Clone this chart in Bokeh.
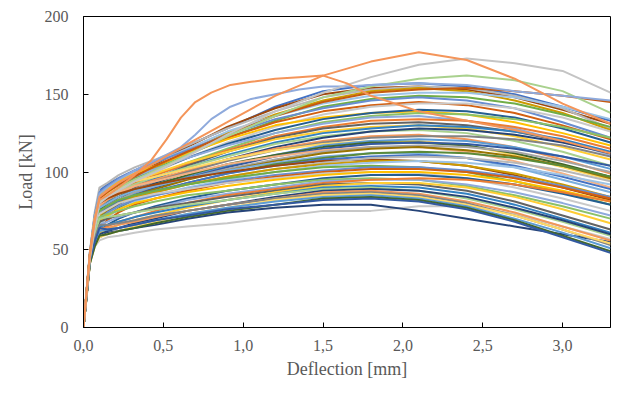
from bokeh.plotting import figure
from bokeh.models import Range1d, FixedTicker, CustomJSTickFormatter
from bokeh.embed import file_html
from bokeh.resources import INLINE

# ---------------- data ----------------
deflection = [0, 0.02, 0.04, 0.07, 0.1, 0.15, 0.22, 0.32, 0.45, 0.65, 0.9, 1.2, 1.5, 1.8, 2.1, 2.4, 2.7, 3.0, 3.3]
deflection_fine = [0, 0.02, 0.04, 0.07, 0.1, 0.15, 0.22, 0.32, 0.42, 0.52, 0.61, 0.7, 0.8, 0.92, 1.05, 1.2, 1.35, 1.5, 1.65, 1.8, 2.1, 2.4, 2.7, 3.0, 3.3]

x_ticks = [0, 0.5, 1.0, 1.5, 2.0, 2.5, 3.0]
y_ticks = [0, 50, 100, 150, 200]

m01 = [0, 25, 48, 72, 88, 92, 96, 101, 107, 117, 128, 142, 152, 156, 157, 155, 150, 142, 133]
m02 = [0, 24, 47, 70, 84, 89, 93, 99, 105, 116, 129, 141, 150, 154, 155, 153, 148, 140, 131]
m03 = [0, 25, 49, 74, 90, 93, 98, 103, 108, 117, 128, 139, 148, 153, 155, 154, 149, 141, 128]
m04 = [0, 23, 46, 68, 82, 86, 91, 97, 103, 113, 125, 137, 146, 152, 154, 152, 146, 138, 127]
m05 = [0, 24, 48, 71, 86, 90, 95, 100, 106, 115, 126, 136, 144, 149, 151, 151, 148, 142, 134]
m06 = [0, 23, 46, 67, 80, 85, 90, 96, 102, 111, 122, 133, 142, 147, 149, 148, 144, 137, 129]
m07 = [0, 24, 48, 72, 87, 91, 96, 101, 106, 114, 124, 134, 141, 146, 148, 146, 141, 132, 122]
m08 = [0, 24, 47, 69, 83, 88, 92, 98, 104, 112, 122, 132, 139, 143, 145, 143, 138, 130, 121]
m09 = [0, 23, 45, 65, 78, 83, 88, 94, 100, 109, 119, 129, 137, 142, 144, 144, 141, 135, 126]
m10 = [0, 24, 47, 70, 85, 89, 94, 99, 104, 112, 121, 130, 135, 138, 139, 137, 132, 125, 117]
m11 = [0, 23, 46, 68, 81, 85, 90, 95, 101, 109, 118, 127, 134, 138, 140, 139, 135, 128, 119]
m12 = [0, 22, 45, 63, 76, 81, 86, 92, 98, 106, 115, 125, 132, 136, 138, 137, 134, 129, 122]
m13 = [0, 24, 47, 70, 84, 88, 92, 97, 102, 109, 117, 125, 131, 135, 136, 133, 128, 120, 111]
m14 = [0, 23, 46, 66, 79, 83, 88, 93, 98, 105, 114, 123, 129, 133, 134, 133, 129, 123, 115]
m15 = [0, 22, 44, 61, 73, 78, 84, 90, 96, 104, 113, 122, 128, 131, 132, 130, 126, 120, 112]
m16 = [0, 24, 47, 69, 82, 86, 90, 95, 99, 106, 113, 121, 126, 129, 130, 128, 123, 116, 108]
m17 = [0, 23, 45, 64, 77, 81, 86, 91, 96, 103, 111, 119, 125, 128, 130, 129, 126, 121, 113]
m18 = [0, 23, 46, 67, 80, 84, 88, 92, 97, 103, 110, 118, 123, 126, 127, 125, 120, 113, 104]
m19 = [0, 22, 44, 60, 71, 76, 82, 88, 93, 100, 108, 116, 122, 126, 128, 127, 124, 119, 112]
m20 = [0, 23, 46, 65, 78, 82, 86, 91, 95, 101, 108, 115, 120, 123, 124, 121, 116, 108, 99]
m21 = [0, 22, 45, 63, 75, 79, 84, 89, 94, 100, 107, 114, 119, 122, 123, 123, 121, 117, 110]
m22 = [0, 24, 47, 70, 83, 86, 90, 94, 97, 102, 108, 114, 118, 120, 120, 117, 111, 103, 95]
m23 = [0, 22, 44, 60, 72, 76, 81, 86, 91, 97, 104, 111, 117, 120, 121, 120, 116, 110, 102]
m24 = [0, 23, 45, 64, 76, 80, 84, 88, 92, 98, 105, 111, 116, 119, 119, 117, 112, 105, 97]
m25 = [0, 22, 43, 58, 69, 74, 79, 85, 90, 96, 103, 110, 115, 118, 119, 118, 115, 110, 104]
m26 = [0, 23, 46, 66, 79, 83, 87, 91, 94, 99, 105, 110, 114, 116, 116, 113, 107, 99, 90]
m27 = [0, 22, 45, 62, 74, 78, 82, 87, 91, 96, 102, 108, 113, 116, 117, 116, 113, 107, 100]
m28 = [0, 22, 44, 59, 70, 75, 80, 85, 89, 95, 101, 107, 112, 115, 116, 114, 110, 104, 96]
m29 = [0, 23, 45, 65, 77, 80, 84, 88, 91, 96, 101, 106, 110, 112, 112, 109, 103, 95, 87]
m30 = [0, 21, 43, 57, 67, 72, 77, 82, 87, 93, 99, 105, 109, 112, 113, 112, 109, 104, 97]
m31 = [0, 22, 44, 61, 73, 77, 81, 85, 88, 93, 99, 104, 108, 110, 111, 109, 104, 97, 89]
m32 = [0, 24, 47, 68, 80, 83, 86, 89, 92, 96, 100, 104, 107, 108, 107, 104, 98, 90, 82]
m33 = [0, 22, 43, 58, 69, 73, 78, 83, 87, 92, 97, 102, 106, 109, 110, 109, 106, 101, 94]
m34 = [0, 22, 44, 60, 72, 76, 80, 84, 87, 92, 97, 102, 105, 107, 107, 104, 99, 92, 84]
m35 = [0, 21, 43, 56, 66, 71, 76, 81, 85, 90, 95, 100, 104, 106, 107, 106, 103, 98, 92]
m36 = [0, 23, 45, 63, 75, 78, 82, 85, 88, 92, 96, 100, 103, 104, 103, 100, 94, 87, 79]
m37 = [0, 22, 44, 59, 70, 74, 78, 82, 85, 89, 94, 98, 101, 103, 103, 101, 97, 91, 84]
m38 = [0, 21, 42, 55, 64, 69, 74, 79, 83, 88, 93, 97, 100, 102, 102, 100, 96, 90, 83]
m39 = [0, 22, 45, 62, 73, 76, 80, 83, 86, 89, 93, 96, 99, 100, 99, 96, 90, 83, 75]
m40 = [0, 22, 43, 58, 68, 72, 76, 80, 83, 87, 91, 95, 98, 100, 100, 98, 94, 88, 81]
m41 = [0, 21, 42, 54, 62, 66, 70, 74, 78, 83, 88, 92, 96, 98, 98, 96, 92, 86, 79]
m42 = [0, 22, 44, 60, 71, 73, 75, 78, 81, 85, 88, 92, 95, 96, 95, 91, 85, 78, 70]
m43 = [0, 21, 43, 56, 66, 68, 71, 74, 77, 82, 86, 90, 94, 95, 95, 92, 87, 80, 72]
m44 = [0, 21, 42, 55, 63, 65, 68, 71, 75, 80, 85, 89, 93, 95, 96, 95, 92, 87, 81]
m45 = [0, 22, 43, 58, 68, 70, 72, 74, 77, 80, 84, 88, 92, 93, 92, 88, 81, 72, 63]
m46 = [0, 21, 42, 53, 61, 63, 66, 69, 72, 77, 82, 87, 91, 93, 93, 90, 84, 76, 67]
m47 = [0, 21, 43, 56, 65, 66, 68, 71, 74, 78, 82, 86, 90, 91, 90, 86, 79, 70, 61]
m48 = [0, 22, 44, 60, 70, 71, 72, 74, 76, 79, 82, 86, 89, 90, 88, 83, 76, 68, 59]
m49 = [0, 21, 42, 53, 60, 62, 64, 67, 70, 75, 79, 84, 88, 89, 88, 84, 77, 69, 60]
m50 = [0, 21, 42, 55, 63, 64, 66, 68, 71, 75, 79, 83, 87, 88, 86, 81, 74, 65, 56]
m51 = [0, 22, 43, 57, 66, 66, 67, 69, 72, 75, 79, 83, 86, 87, 85, 80, 72, 63, 53]
m52 = [0, 20, 41, 52, 58, 60, 62, 65, 68, 73, 77, 82, 85, 86, 84, 79, 72, 63, 54]
m53 = [0, 21, 42, 54, 62, 63, 64, 66, 69, 73, 77, 81, 84, 85, 83, 78, 70, 61, 51]
m54 = [0, 20, 41, 52, 59, 60, 62, 64, 67, 71, 75, 79, 83, 84, 82, 77, 69, 59, 49]
m55 = [0, 21, 43, 55, 64, 63, 64, 66, 69, 72, 76, 79, 82, 83, 81, 76, 68, 58, 48]

# curves read on the finer deflection grid
orange_early = [0, 24, 48, 70, 82, 85, 90, 98, 107, 121, 135, 145, 151, 156, 158, 160, 161, 162, 157, 149, 139, 133, 127, 120, 112]
blue_top = [0, 24, 47, 69, 86, 90, 95, 101, 106, 111, 116, 124, 134, 142, 147, 150, 153, 155, 155, 156, 157, 156, 152, 149, 146]

orange_peak = [0, 23, 46, 68, 84, 88, 93, 99, 106, 118, 132, 149, 162, 171, 177, 172, 160, 144, 131]
gray_top = [0, 22, 44, 64, 80, 84, 88, 94, 100, 110, 124, 139, 151, 161, 169, 173, 170, 165, 151]
green_top = [0, 23, 45, 66, 81, 85, 90, 95, 101, 111, 123, 136, 148, 155, 160, 162, 159, 152, 138]
brown_top = [0, 24, 47, 68, 83, 87, 92, 97, 104, 113, 124, 136, 145, 151, 153, 154, 152, 149, 145]
gray_low = [0, 21, 42, 52, 56, 58, 59, 61, 63, 65, 67, 71, 75, 75, 78, 78, 73, 65, 57]
navy_low = [0, 21, 43, 54, 58, 61, 62, 64, 66, 70, 74, 77, 79, 79, 75, 70, 65, 60, 55]

main_curves = [m01, m02, m03, m04, m05, m06, m07, m08, m09, m10, m11, m12, m13, m14, m15,
               m16, m17, m18, m19, m20, m21, m22, m23, m24, m25, m26, m27, m28, m29, m30,
               m31, m32, m33, m34, m35, m36, m37, m38, m39, m40, m41, m42, m43, m44, m45,
               m46, m47, m48, m49, m50, m51, m52, m53, m54, m55]

# ---------------- styles ----------------
PALETTE = ["#4472C4", "#ED7D31", "#A5A5A5", "#FFC000", "#5B9BD5", "#70AD47",
           "#264478", "#9E480E", "#636363", "#997300", "#255E91", "#43682B",
           "#698ED0", "#F1975A", "#B7B7B7", "#FFCD33", "#7CAFDD", "#8CC168",
           "#335AA1", "#D26012", "#848484", "#CC9A00", "#3281C1", "#5A8A39",
           "#8FAADC", "#F4B183", "#C9C9C9", "#FFD966", "#9DC3E6", "#A9D18E"]

FONT = "Liberation Serif"
TEXT = "#595959"
LW = 2

p = figure(width=627, height=391, x_range=Range1d(0, 3.3), y_range=Range1d(0, 200),
           output_backend="svg", toolbar_location=None,
           min_border_left=83, min_border_right=17, min_border_top=16, min_border_bottom=64)

p.line(deflection, gray_low, line_color="#C8C8C8", line_width=LW)
p.line(deflection, navy_low, line_color="#264478", line_width=LW)
for i, ys in enumerate(main_curves):
    p.line(deflection, ys, line_color=PALETTE[(i * 7) % 30], line_width=LW)
p.line(deflection, brown_top, line_color="#C55A11", line_width=LW)
p.line(deflection, green_top, line_color="#A9D18E", line_width=LW)
p.line(deflection_fine, blue_top, line_color="#8FAADC", line_width=LW)
p.line(deflection, gray_top, line_color="#C4C4C4", line_width=LW)
p.line(deflection_fine, orange_early, line_color="#F4955A", line_width=LW)
p.line(deflection, orange_peak, line_color="#F4955A", line_width=LW)

p.xgrid.visible = False
p.ygrid.visible = False
p.outline_line_color = "black"
p.outline_line_width = 1
p.outline_line_alpha = 1

p.xaxis.ticker = FixedTicker(ticks=x_ticks)
p.yaxis.ticker = FixedTicker(ticks=y_ticks)
p.xaxis.formatter = CustomJSTickFormatter(code="return tick.toFixed(1).replace('.', ',');")
p.xaxis.axis_label = "Deflection [mm]"
p.yaxis.axis_label = "Load [kN]"

for ax in (p.xaxis[0], p.yaxis[0]):
    ax.axis_line_color = "black"
    ax.axis_line_width = 1
    ax.major_tick_line_color = "black"
    ax.major_tick_in = 5
    ax.major_tick_out = 0
    ax.minor_tick_line_color = None
    ax.major_label_text_font = FONT
    ax.major_label_text_font_size = "16px"
    ax.major_label_text_color = TEXT
    ax.axis_label_text_font = FONT
    ax.axis_label_text_font_size = "18px"
    ax.axis_label_text_font_style = "normal"
    ax.axis_label_text_color = TEXT

p.xaxis.major_label_standoff = 12
p.yaxis.major_label_standoff = 15
p.xaxis.axis_label_standoff = 5
p.yaxis.axis_label_standoff = 6

open("out.html", "w").write(file_html(p, INLINE))
